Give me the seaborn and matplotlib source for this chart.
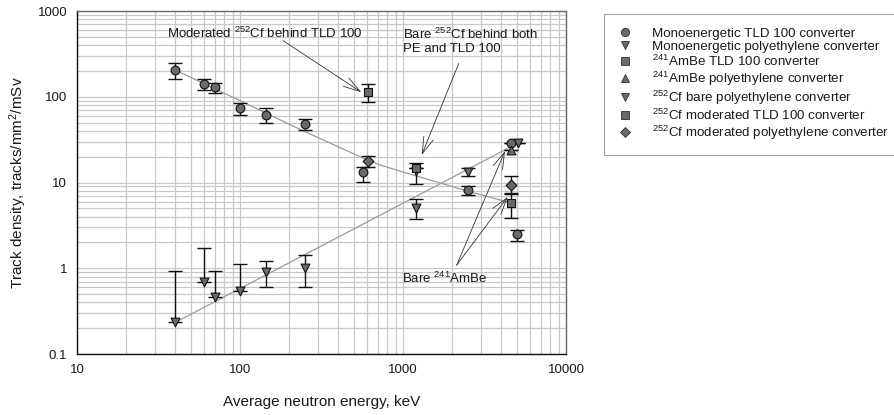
import numpy as np
import pandas as pd
import matplotlib
matplotlib.use("Agg")
import matplotlib.pyplot as plt
from matplotlib.lines import Line2D
from matplotlib.ticker import FuncFormatter, LogLocator, NullFormatter
import seaborn as sns

# ---------------- data ----------------
mono_tld_x = [40, 60, 70, 100, 145, 250, 566, 2500, 4570, 5000]
mono_tld_y = [205, 142, 129, 74, 61.5, 48, 13.1, 8.15, 28.5, 2.5]
mono_tld_lo = [161, 120, 112, 62, 49, 40.5, 10.2, 7.1, 28.5, 2.09]
mono_tld_hi = [245, 160, 145, 85, 73, 54.5, 15.3, 9.2, 28.5, 2.8]

mono_pe_x = [40, 60, 70, 100, 145, 250, 1210, 2500, 5100]
mono_pe_y = [0.233, 0.694, 0.456, 0.545, 0.893, 0.995, 5.0, 13.3, 28.5]
mono_pe_lo = [0.233, 0.694, 0.456, 0.545, 0.60, 0.60, 3.77, 11.9, 28.5]
mono_pe_hi = [0.92, 1.73, 0.94, 1.12, 1.21, 1.41, 6.35, 14.9, 28.5]

ambe_tld_x = [4570]
ambe_tld_y = [5.8]
ambe_tld_lo = [3.9]
ambe_tld_hi = [7.4]

ambe_pe_x = [4570]
ambe_pe_y = [23.9]
ambe_pe_lo = [23.9]
ambe_pe_hi = [23.9]

cf_bare_pe_x = [1210]
cf_bare_pe_y = [13.7]
cf_bare_pe_lo = [9.6]
cf_bare_pe_hi = [16.7]

cf_mod_tld_x = [607, 1210]
cf_mod_tld_y = [114, 14.6]
cf_mod_tld_lo = [87.5, 14.6]
cf_mod_tld_hi = [140, 14.6]

cf_mod_pe_x = [613, 4570]
cf_mod_pe_y = [17.9, 9.3]
cf_mod_pe_lo = [15.3, 7.5]
cf_mod_pe_hi = [20.3, 12.0]

# fitted trend lines
fit_tld_x = [40, 100, 233, 568, 723, 1210, 2510, 4570]
fit_tld_y = [205, 90, 41.7, 19.3, 16.0, 11.9, 7.9, 5.8]
fit_pe_x = [40, 4570]
fit_pe_y = [0.233, 26]

labels = [
    "Monoenergetic TLD 100 converter",
    "Monoenergetic polyethylene converter",
    "$^{241}$AmBe TLD 100 converter",
    "$^{241}$AmBe polyethylene converter",
    "$^{252}$Cf bare polyethylene converter",
    "$^{252}$Cf moderated TLD 100 converter",
    "$^{252}$Cf moderated polyethylene converter",
]
markers = ["o", "v", "s", "^", "v", "s", "D"]

series = [
    (mono_tld_x, mono_tld_y, mono_tld_lo, mono_tld_hi),
    (mono_pe_x, mono_pe_y, mono_pe_lo, mono_pe_hi),
    (ambe_tld_x, ambe_tld_y, ambe_tld_lo, ambe_tld_hi),
    (ambe_pe_x, ambe_pe_y, ambe_pe_lo, ambe_pe_hi),
    (cf_bare_pe_x, cf_bare_pe_y, cf_bare_pe_lo, cf_bare_pe_hi),
    (cf_mod_tld_x, cf_mod_tld_y, cf_mod_tld_lo, cf_mod_tld_hi),
    (cf_mod_pe_x, cf_mod_pe_y, cf_mod_pe_lo, cf_mod_pe_hi),
]

# ---------------- style ----------------
sns.set_theme(style="white")
plt.rcParams["font.family"] = ["Liberation Sans", "DejaVu Sans"]
plt.rcParams["mathtext.fontset"] = "custom"
plt.rcParams["mathtext.rm"] = "Liberation Sans"
plt.rcParams["mathtext.it"] = "Liberation Sans:italic"
plt.rcParams["mathtext.bf"] = "Liberation Sans:bold"

FILL = "#6a6a6a"
GRID = "#c8c8c8"
TXT = "#1a1a1a"

fig = plt.figure(figsize=(8.95, 4.15), dpi=100)
ax = fig.add_axes([77 / 895, 1 - 354 / 415, (566 - 77) / 895, (354 - 11) / 415])
ax.set_xscale("log")
ax.set_yscale("log")
ax.set_xlim(10, 10000)
ax.set_ylim(0.1, 1000)

ax.xaxis.set_minor_locator(LogLocator(base=10, subs=np.arange(2, 10)))
ax.yaxis.set_minor_locator(LogLocator(base=10, subs=np.arange(2, 10)))
ax.xaxis.set_minor_formatter(NullFormatter())
ax.yaxis.set_minor_formatter(NullFormatter())
fmt = FuncFormatter(lambda v, _: f"{v:g}")
ax.xaxis.set_major_formatter(fmt)
ax.yaxis.set_major_formatter(fmt)
ax.grid(True, which="both", color=GRID, lw=0.9, zorder=0)
ax.set_axisbelow(True)
ax.tick_params(which="major", direction="out", length=4, width=0.8,
               color="#222222", labelsize=9.5, labelcolor=TXT, pad=3)
ax.tick_params(which="minor", length=0)
for s in ["left", "bottom"]:
    ax.spines[s].set_color("#111111")
    ax.spines[s].set_linewidth(1.0)
for s in ["top", "right"]:
    ax.spines[s].set_color("#666666")
    ax.spines[s].set_linewidth(1.0)

# trend lines
sns.lineplot(x=fit_tld_x, y=fit_tld_y, ax=ax, color="#9a9a9a", lw=0.9, zorder=2)
sns.lineplot(x=fit_pe_x, y=fit_pe_y, ax=ax, color="#9a9a9a", lw=0.9, zorder=2)

# error bars + markers
for (x, y, lo, hi), mk, lab in zip(series, markers, labels):
    y_arr = np.array(y)
    yerr = np.vstack([y_arr - np.array(lo), np.array(hi) - y_arr])
    ax.errorbar(x, y, yerr=yerr, fmt="none", ecolor="#111111", elinewidth=1.0,
                capsize=5, capthick=1.0, zorder=3)
    df = pd.DataFrame({"x": x, "y": y})
    size = 40 if mk != "D" else 30
    sns.scatterplot(data=df, x="x", y="y", marker=mk, s=size, color=FILL,
                    edgecolor="#111111", linewidth=0.8, ax=ax, zorder=4, legend=False)

ax.set_xlabel("Average neutron energy, keV", fontsize=11, color=TXT, labelpad=14)
ax.set_ylabel("Track density, tracks/mm$^2$/mSv", fontsize=11, color=TXT, labelpad=6)

# annotations
arrow = dict(arrowstyle="->,head_length=1.0,head_width=0.3", color="#333333",
             lw=0.6, shrinkA=0, shrinkB=0)
ax.text(35.6, 553, "Moderated $^{252}$Cf behind TLD 100", fontsize=9.5,
        color=TXT, ha="left", va="center")
ax.annotate("", xy=(555, 113), xytext=(184, 450), arrowprops=arrow)

ax.text(995, 447, "Bare $^{252}$Cf behind both\nPE and TLD 100", fontsize=9.5,
        color=TXT, ha="left", va="center", linespacing=1.05)
ax.annotate("", xy=(1302, 20.9), xytext=(2198, 245), arrowprops=arrow)

ax.text(980, 0.766, "Bare $^{241}$AmBe", fontsize=9.5, color=TXT,
        ha="left", va="center")
ax.annotate("", xy=(4225, 23.3), xytext=(2135, 1.087), arrowprops=arrow)
ax.annotate("", xy=(4390, 6.8), xytext=(2135, 1.087), arrowprops=arrow)

# legend
handles = [Line2D([], [], linestyle="none", marker=mk, markersize=6 if mk != "D" else 5.5,
                  markerfacecolor=FILL, markeredgecolor="#333333", markeredgewidth=0.6)
           for mk in markers]
leg = fig.legend(handles, labels, loc="upper left",
                 bbox_to_anchor=(604 / 895, 1 - 14 / 415), borderaxespad=0,
                 fontsize=9.6, frameon=True, fancybox=False, edgecolor="#888888",
                 handlelength=1.2, handletextpad=1.4, labelspacing=0.06,
                 borderpad=1.0)
leg.get_frame().set_linewidth(0.8)
for t in leg.get_texts():
    t.set_color(TXT)

fig.savefig("out.png", dpi=100)
